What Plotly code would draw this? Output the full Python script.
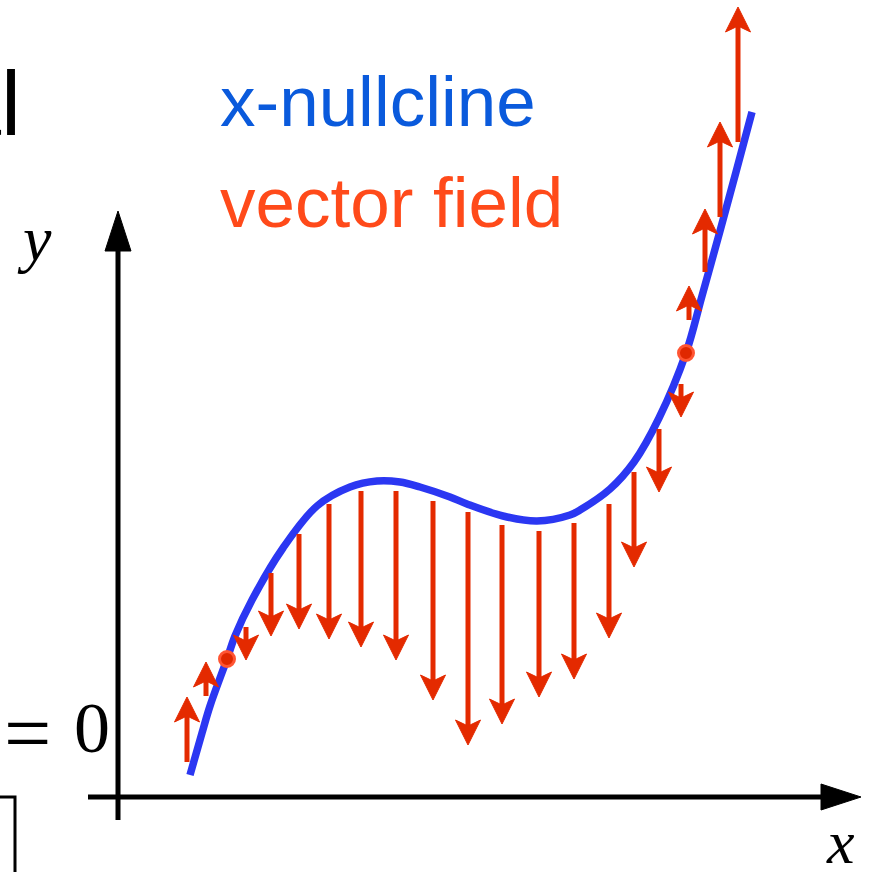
import plotly.graph_objects as go

W, H = 871, 872
# data units: 1 unit = 100 px, origin of the drawn axes at the crossing point
X_RANGE = [-1.18, 7.53]
Y_RANGE = [-0.75, 7.97]
PX = (X_RANGE[1] - X_RANGE[0]) / W  # data units per pixel

# x-nullcline
curve_x = [0.72, 0.84, 0.92, 1.09, 1.17, 1.34, 1.65, 1.99, 2.32, 2.59, 2.82, 3.02, 3.32,
           3.49, 3.85, 4.19, 4.52, 4.62, 4.92, 5.16, 5.41, 5.68, 5.84, 6.02, 6.18, 6.34]
curve_y = [0.22, 0.64, 0.91, 1.38, 1.61, 1.97, 2.49, 2.91, 3.10, 3.16, 3.15, 3.10, 3.00,
           2.93, 2.81, 2.76, 2.82, 2.87, 3.08, 3.35, 3.79, 4.44, 5.01, 5.66, 6.25, 6.85]

# fixed points on the nullcline
fixed_x = [1.09, 5.68]
fixed_y = [1.38, 4.44]

# vector field arrows: x position, tail y, tip y
arrow_x = [0.69, 0.88, 1.28, 1.53, 1.81, 2.11, 2.43, 2.78, 3.15, 3.50, 3.84,
           4.21, 4.56, 4.91, 5.16, 5.41, 5.63, 5.71, 5.87, 6.02, 6.20]
arrow_y0 = [0.35, 1.01, 1.70, 2.24, 2.63, 2.93, 3.06, 3.06, 2.96, 2.85, 2.72,
            2.66, 2.74, 2.93, 3.25, 3.68, 4.13, 4.77, 5.25, 5.80, 6.55]
arrow_y1 = [1.00, 1.35, 1.37, 1.61, 1.68, 1.58, 1.50, 1.37, 0.97, 0.52, 0.73,
            1.00, 1.18, 1.59, 2.30, 3.05, 3.80, 5.11, 5.88, 6.75, 7.90]

# drawn axes extents
yaxis_ext = [-0.23, 5.86]
xaxis_ext = [-0.30, 7.43]

RED = "#E42A00"
BLUE = "#2B37F2"

fig = go.Figure()

fig.add_trace(go.Scatter(x=curve_x, y=curve_y, mode="lines",
                         line=dict(color=BLUE, width=7.5, shape="spline", smoothing=1.0),
                         hoverinfo="skip"))
fig.add_trace(go.Scatter(x=fixed_x, y=fixed_y, mode="markers",
                         marker=dict(size=15, color="#E02800",
                                     line=dict(color="#FF5533", width=3)),
                         hoverinfo="skip"))

shapes = []
# axes
ah_len, ah_hw = 40 * PX, 13 * PX
shapes.append(dict(type="line", xref="x", yref="y", x0=0, x1=0,
                   y0=yaxis_ext[0], y1=yaxis_ext[1] - ah_len * 0.5,
                   line=dict(color="black", width=5), layer="below"))
shapes.append(dict(type="path", xref="x", yref="y", layer="below",
                   path=f"M0,{yaxis_ext[1]} L{-ah_hw},{yaxis_ext[1]-ah_len} L{ah_hw},{yaxis_ext[1]-ah_len} Z",
                   fillcolor="black", line=dict(color="black", width=1)))
shapes.append(dict(type="line", xref="x", yref="y", y0=0, y1=0,
                   x0=xaxis_ext[0], x1=xaxis_ext[1] - ah_len * 0.5,
                   line=dict(color="black", width=5), layer="below"))
shapes.append(dict(type="path", xref="x", yref="y", layer="below",
                   path=f"M{xaxis_ext[1]},0 L{xaxis_ext[1]-ah_len},{-ah_hw} L{xaxis_ext[1]-ah_len},{ah_hw} Z",
                   fillcolor="black", line=dict(color="black", width=1)))

# red arrows: notched heads
hl, hw, nl = 25 * PX, 12.5 * PX, 19 * PX
for x, y0, y1 in zip(arrow_x, arrow_y0, arrow_y1):
    d = 1 if y1 > y0 else -1
    shapes.append(dict(type="line", xref="x", yref="y", x0=x, x1=x, y0=y0, y1=y1 - d * (nl - 2 * PX),
                       line=dict(color=RED, width=5)))
    shapes.append(dict(type="path", xref="x", yref="y",
                       path=(f"M{x:.4f},{y1:.4f} L{x-hw:.4f},{y1-d*hl:.4f} L{x:.4f},{y1-d*nl:.4f} "
                             f"L{x+hw:.4f},{y1-d*hl:.4f} Z"),
                       fillcolor=RED, line=dict(color=RED, width=1)))

# cropped box fragment at bottom-left
shapes.append(dict(type="path", xref="x", yref="y",
                   path=f"M{X_RANGE[0]},0 L{X_RANGE[0]+15*PX},0 L{X_RANGE[0]+15*PX},{Y_RANGE[0]}",
                   line=dict(color="black", width=3)))

annotations = [
    dict(x=1.00, y=6.96, xref="x", yref="y", text="x-nullcline", showarrow=False,
         xanchor="left", yanchor="middle",
         font=dict(family="Liberation Sans", size=71, color="#0A5ADC")),
    dict(x=1.00, y=5.95, xref="x", yref="y", text="vector field", showarrow=False,
         xanchor="left", yanchor="middle",
         font=dict(family="Liberation Sans", size=71, color="#FF4A1A")),
    dict(x=-0.84, y=5.59, xref="x", yref="y", text="<i>y</i>", showarrow=False,
         xanchor="center", yanchor="middle",
         font=dict(family="Liberation Serif", size=64, color="black")),
    dict(x=7.22, y=-0.45, xref="x", yref="y", text="<i>x</i>", showarrow=False,
         xanchor="center", yanchor="middle",
         font=dict(family="Liberation Serif", size=62, color="black")),
    dict(x=-0.91, y=0.64, xref="x", yref="y", text="=", showarrow=False,
         xanchor="center", yanchor="middle",
         font=dict(family="Liberation Serif", size=84, color="black")),
    dict(x=-0.26, y=0.69, xref="x", yref="y", text="0", showarrow=False,
         xanchor="center", yanchor="middle",
         font=dict(family="Liberation Serif", size=72, color="black")),
    dict(x=X_RANGE[0] + 23 * PX, y=6.93, xref="x", yref="y", text="al", showarrow=False,
         xanchor="right", yanchor="middle",
         font=dict(family="Liberation Sans", size=90, color="black")),
]

fig.update_layout(
    width=W, height=H, margin=dict(l=0, r=0, t=0, b=0),
    paper_bgcolor="white", plot_bgcolor="white", showlegend=False,
    xaxis=dict(range=X_RANGE, visible=False, fixedrange=True),
    yaxis=dict(range=Y_RANGE, visible=False, fixedrange=True),
    shapes=shapes, annotations=annotations,
)

fig.write_html("out.html", config={"displayModeBar": False},
               post_script="document.body.style.margin='0px';")
